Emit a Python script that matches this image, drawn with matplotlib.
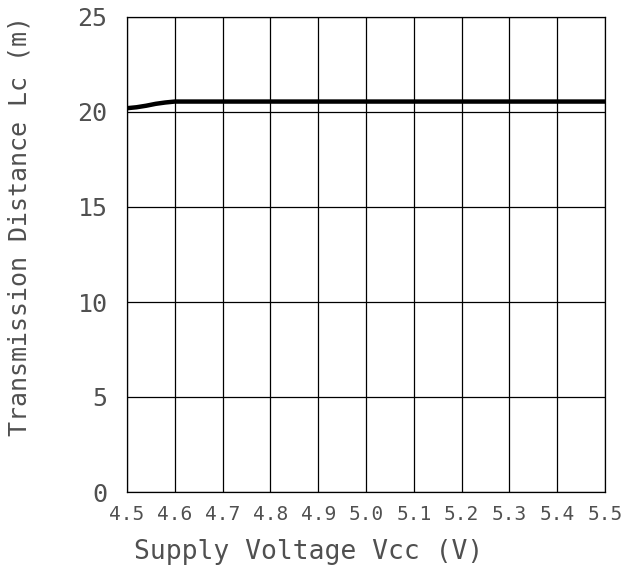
import numpy as np
import matplotlib
matplotlib.use('Agg')
import matplotlib.pyplot as plt

# supply voltage (V) vs transmission distance (m)
vcc = [4.50, 4.52, 4.54, 4.56, 4.58, 4.60, 4.80, 5.00, 5.20, 5.40, 5.50]
distance = [20.20, 20.25, 20.33, 20.43, 20.50, 20.55, 20.55, 20.55, 20.55, 20.55, 20.55]

xticks = [4.5, 4.6, 4.7, 4.8, 4.9, 5.0, 5.1, 5.2, 5.3, 5.4, 5.5]
xticklabels = ['4.5', '4.6', '4.7', '4.8', '4.9', '5.0', '5.1', '5.2', '5.3', '5.4', '5.5']
yticks = [0, 5, 10, 15, 20, 25]

plt.rcParams['font.family'] = ['DejaVu Sans Mono']
txt = '#505050'

fig = plt.figure(figsize=(6.44, 5.78), dpi=100)
ax = fig.add_axes([127/644, 86/578, 478/644, 475/578])

ax.plot(vcc, distance, color='black', linewidth=3.2, solid_capstyle='butt')

ax.set_xlim(4.5, 5.5)
ax.set_ylim(0, 25)
ax.set_xticks(xticks)
ax.set_xticklabels(xticklabels, fontsize=14)
ax.set_yticks(yticks)
ax.set_yticklabels([str(v) for v in yticks], fontsize=18)
ax.tick_params(length=0, colors=txt)
ax.tick_params(axis='x', pad=9)
ax.tick_params(axis='y', pad=14)
ax.grid(True, color='black', linewidth=0.9)
ax.set_axisbelow(True)
for s in ax.spines.values():
    s.set_color('black')
    s.set_linewidth(0.9)

fig.text(309/644, 1 - 552/578, 'Supply Voltage Vcc (V)', fontsize=19,
         ha='center', va='center', color=txt)
fig.text(20/644, 1 - 226/578, 'Transmission Distance Lc (m)', fontsize=18,
         ha='center', va='center', rotation=90, color=txt)

fig.savefig('out.png', dpi=100, facecolor='white')
